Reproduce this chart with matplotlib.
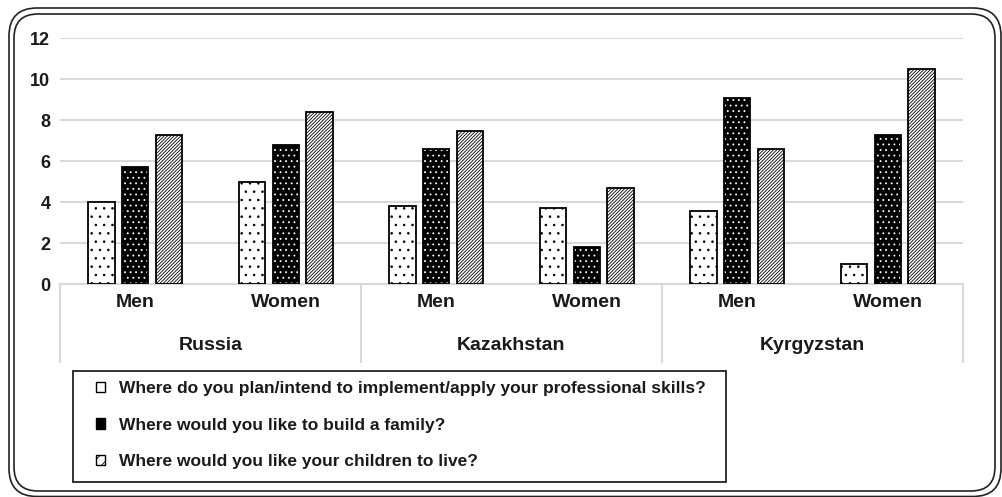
import numpy as np
import matplotlib
matplotlib.use("Agg")
import matplotlib.pyplot as plt
from matplotlib.patches import FancyBboxPatch, Patch, Rectangle
from matplotlib.transforms import IdentityTransform

plt.rcParams['font.family'] = ['Liberation Sans', 'DejaVu Sans']
plt.rcParams['font.weight'] = 'bold'
plt.rcParams['hatch.linewidth'] = 0.6

countries = ['Russia', 'Kazakhstan', 'Kyrgyzstan']
genders = ['Men', 'Women']

# one value per country/gender group: Russia M, Russia W, Kaz M, Kaz W, Kyr M, Kyr W
skills = [4.0, 5.0, 3.8, 3.7, 3.6, 1.0]
family = [5.7, 6.8, 6.6, 1.8, 9.1, 7.3]
children = [7.3, 8.4, 7.5, 4.7, 6.6, 10.5]

labels = ['Where do you plan/intend to implement/apply your professional skills?',
          'Where would you like to build a family?',
          'Where would you like your children to live?']

txt = '#1a1a1a'
W, H = 1002, 497
fig = plt.figure(figsize=(W / 100, H / 100), dpi=100)
ax = fig.add_axes([60 / W, (H - 284.3) / H, 903 / W, 246 / H])

x = np.arange(len(skills))
bw = 0.175
step = 0.225

# white bars with sparse dots
ax.bar(x - step, skills, bw, color='white', edgecolor='black', hatch='..', linewidth=1.3, zorder=3)
# black bars with white dots: fill + white hatch, then black outline
ax.bar(x, family, bw, color='black', edgecolor='white', hatch='...', linewidth=0, zorder=3)
ax.bar(x, family, bw, color='none', edgecolor='black', linewidth=1.3, zorder=4)
# white bars with dense diagonal hatching
ax.bar(x + step, children, bw, color='white', edgecolor='black', hatch='//////////',
       linewidth=1.3, zorder=3)

ax.set_xlim(-0.5, 5.5)
ax.set_ylim(0, 12)
ax.set_yticks(range(0, 13, 2))
ax.tick_params(axis='y', length=0, pad=7, labelsize=13, labelcolor=txt)
ax.tick_params(axis='x', length=0, labelbottom=False)
ax.grid(axis='y', color='#d9d9d9', linewidth=1.5, zorder=0)
for s in ['left', 'right', 'top']:
    ax.spines[s].set_visible(False)
ax.spines['bottom'].set_color('#d9d9d9')
ax.spines['bottom'].set_linewidth(1.5)

# two-level category table under the axis
tr = ax.get_xaxis_transform()
for i in range(len(skills)):
    ax.text(x[i], -0.076, genders[i % 2], transform=tr, ha='center', va='center',
            fontsize=14, color=txt)
for j, c in enumerate(countries):
    ax.text(2 * j + 0.5, -0.247, c, transform=tr, ha='center', va='center',
            fontsize=14, color=txt)
for xs in [-0.5, 1.5, 3.5, 5.5]:
    ax.plot([xs, xs], [0, -0.316], transform=tr, color='#d9d9d9', linewidth=1.5,
            clip_on=False)

# legend box below the table
fig.patches.append(Rectangle((73, H - 482), 653, 111, transform=IdentityTransform(),
                             facecolor='white', edgecolor='#222222', linewidth=1.3))
handles = [Patch(facecolor='white', edgecolor='black', hatch='.', linewidth=1.0),
           Patch(facecolor='black', edgecolor='black', linewidth=1.0),
           Patch(facecolor='white', edgecolor='black', hatch='///', linewidth=1.0)]
leg = fig.legend(handles, labels, loc='upper left', bbox_to_anchor=(96 / W, 1 - 381 / H),
                 borderaxespad=0, borderpad=0, frameon=False,
                 handlelength=0.52, handleheight=0.52, handletextpad=0.8,
                 labelspacing=1.25, fontsize=12.5)
for t in leg.get_texts():
    t.set_color(txt)

# double rounded frame around the whole chart
for (x0, y0, x1, y1, r) in [(9, 0.5, 1001, 489, 28), (14, 6, 995, 483, 24)]:
    fig.patches.append(FancyBboxPatch((x0, y0), x1 - x0, y1 - y0,
                                      boxstyle=f'round,pad=0,rounding_size={r}',
                                      transform=IdentityTransform(), facecolor='none',
                                      edgecolor='#222222', linewidth=1.2))

fig.savefig('out.png', dpi=100)
